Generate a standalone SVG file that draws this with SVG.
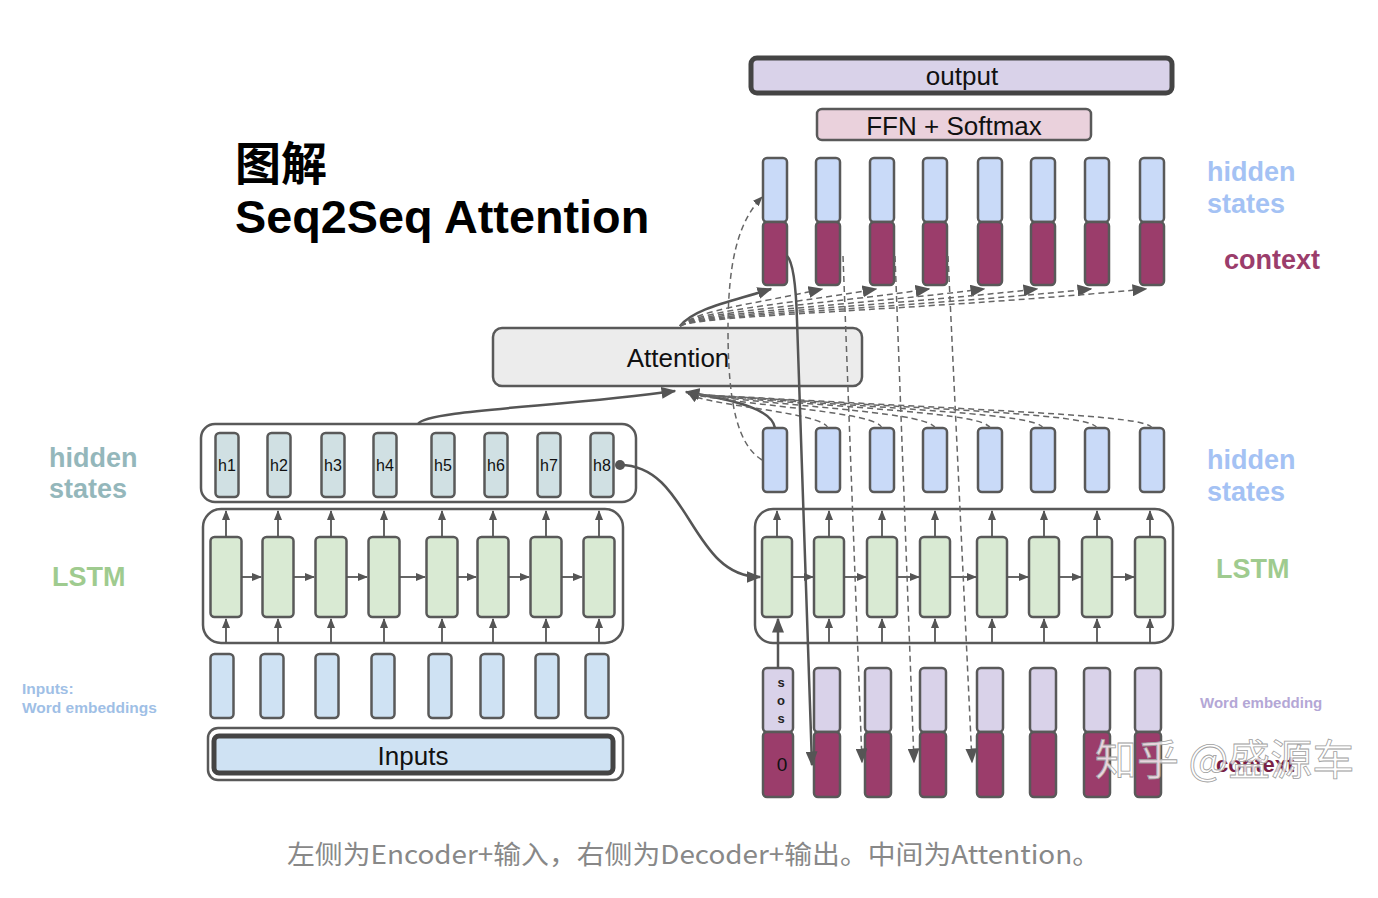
<svg xmlns="http://www.w3.org/2000/svg" width="1378" height="898" viewBox="0 0 1378 898">
<defs>
<marker id="ar" viewBox="0 0 10 8" refX="9" refY="4" markerWidth="10" markerHeight="8" markerUnits="userSpaceOnUse" orient="auto"><path d="M0,0 L10,4 L0,8 z" fill="#555"/></marker>
<marker id="arB" viewBox="0 0 10 8" refX="9" refY="4" markerWidth="15" markerHeight="12" markerUnits="userSpaceOnUse" orient="auto"><path d="M0,0 L10,4 L0,8 z" fill="#555"/></marker>
<style>
.bx{stroke:#595959;stroke-width:2.5}
.ct{fill:none;stroke:#595959;stroke-width:2.5}
.hs{fill:#d0e0e3}
.ls{fill:#d9ead3}
.ie{fill:#cfe2f3}
.dh{fill:#c9daf8}
.rd{fill:#9b3d6b}
.lv{fill:#d9d2e9}
.ln{fill:none;stroke:#555;stroke-width:1.8}
.lnB{fill:none;stroke:#555;stroke-width:2.5}
.ds{fill:none;stroke:#666;stroke-width:1.5;stroke-dasharray:6 4}
.t{font-family:"Liberation Sans",Arial,sans-serif;fill:#111}
.lb{font-family:"Liberation Sans",Arial,sans-serif;font-weight:bold}
</style>
</defs>
<rect width="1378" height="898" fill="#fff"/>

<g id="title">
<text x="235" y="180" font-family="'Noto Sans CJK SC',sans-serif" font-weight="bold" font-size="46" fill="#000">图解</text>
<text x="235" y="233" class="lb" font-size="46.8" fill="#000">Seq2Seq Attention</text>
</g>

<g id="labels">
<text x="49" y="467" class="lb" font-size="27" fill="#94b7bb">hidden</text>
<text x="49" y="498" class="lb" font-size="27" fill="#94b7bb">states</text>
<text x="52" y="586" class="lb" font-size="27" fill="#9fcb8f">LSTM</text>
<text x="22" y="694" class="lb" font-size="15.5" fill="#9fbfe6">Inputs:</text>
<text x="22" y="713" class="lb" font-size="15.5" fill="#9fbfe6">Word embeddings</text>
<text x="1207" y="181" class="lb" font-size="27" fill="#a4c2f4">hidden</text>
<text x="1207" y="213" class="lb" font-size="27" fill="#a4c2f4">states</text>
<text x="1224" y="269" class="lb" font-size="27" fill="#9b3d6b">context</text>
<text x="1207" y="469" class="lb" font-size="27" fill="#a4c2f4">hidden</text>
<text x="1207" y="501" class="lb" font-size="27" fill="#a4c2f4">states</text>
<text x="1216" y="578" class="lb" font-size="27" fill="#9fcb8f">LSTM</text>
<text x="1200" y="708" class="lb" font-size="15" fill="#b4a7d6">Word embedding</text>
<text x="1216" y="772" class="lb" font-size="22" fill="#7a1f45">context</text>
</g>

<g id="output">
<rect x="751" y="58" width="421" height="35" rx="6" fill="#d9d2e9" stroke="#444" stroke-width="5"/>
<text x="962" y="85" class="t" font-size="26" text-anchor="middle">output</text>
</g>
<g id="ffn">
<rect x="817" y="109" width="274" height="31" rx="5" fill="#ead1dc" class="bx"/>
<text x="954" y="135" class="t" font-size="26" text-anchor="middle">FFN + Softmax</text>
</g>
<g id="attention">
<rect x="493" y="328" width="369" height="58" rx="9" fill="#ececec" class="bx"/>
<text x="678" y="367" class="t" font-size="26" text-anchor="middle">Attention</text>
</g>

<g id="encoder-hidden">
<rect x="201" y="424" width="435" height="78" rx="14" class="ct"/>
<rect x="215.5" y="433" width="23" height="64" rx="4" class="bx hs"/>
<rect x="267.5" y="433" width="23" height="64" rx="4" class="bx hs"/>
<rect x="321.5" y="433" width="23" height="64" rx="4" class="bx hs"/>
<rect x="373.5" y="433" width="23" height="64" rx="4" class="bx hs"/>
<rect x="431.5" y="433" width="23" height="64" rx="4" class="bx hs"/>
<rect x="484.5" y="433" width="23" height="64" rx="4" class="bx hs"/>
<rect x="537.5" y="433" width="23" height="64" rx="4" class="bx hs"/>
<rect x="590.5" y="433" width="23" height="64" rx="4" class="bx hs"/>
<g class="t" font-size="16" text-anchor="middle">
<text x="227" y="471">h1</text><text x="279" y="471">h2</text><text x="333" y="471">h3</text><text x="385" y="471">h4</text>
<text x="443" y="471">h5</text><text x="496" y="471">h6</text><text x="549" y="471">h7</text><text x="602" y="471">h8</text>
</g>
</g>

<g id="encoder-lstm">
<rect x="203" y="509" width="420" height="134" rx="18" class="ct"/>
<rect x="210.5" y="537" width="31" height="80" rx="4" class="bx ls"/>
<rect x="262.5" y="537" width="31" height="80" rx="4" class="bx ls"/>
<rect x="315.5" y="537" width="31" height="80" rx="4" class="bx ls"/>
<rect x="368.5" y="537" width="31" height="80" rx="4" class="bx ls"/>
<rect x="426.5" y="537" width="31" height="80" rx="4" class="bx ls"/>
<rect x="477.5" y="537" width="31" height="80" rx="4" class="bx ls"/>
<rect x="530.5" y="537" width="31" height="80" rx="4" class="bx ls"/>
<rect x="583.5" y="537" width="31" height="80" rx="4" class="bx ls"/>
</g>

<g id="encoder-inputs">
<rect x="210.5" y="654" width="23" height="64" rx="4" class="bx ie"/>
<rect x="260.5" y="654" width="23" height="64" rx="4" class="bx ie"/>
<rect x="315.5" y="654" width="23" height="64" rx="4" class="bx ie"/>
<rect x="371.5" y="654" width="23" height="64" rx="4" class="bx ie"/>
<rect x="428.5" y="654" width="23" height="64" rx="4" class="bx ie"/>
<rect x="480.5" y="654" width="23" height="64" rx="4" class="bx ie"/>
<rect x="535.5" y="654" width="23" height="64" rx="4" class="bx ie"/>
<rect x="585.5" y="654" width="23" height="64" rx="4" class="bx ie"/>
</g>

<g id="inputs">
<rect x="208" y="728" width="415" height="52" rx="10" class="ct"/>
<rect x="214" y="736" width="399" height="37" rx="5" fill="#cfe2f3" stroke="#444" stroke-width="5"/>
<text x="413" y="765" class="t" font-size="26" text-anchor="middle">Inputs</text>
</g>

<g id="decoder-top">
<rect x="763" y="158" width="24" height="64" rx="4" class="bx dh"/>
<rect x="816" y="158" width="24" height="64" rx="4" class="bx dh"/>
<rect x="870" y="158" width="24" height="64" rx="4" class="bx dh"/>
<rect x="923" y="158" width="24" height="64" rx="4" class="bx dh"/>
<rect x="978" y="158" width="24" height="64" rx="4" class="bx dh"/>
<rect x="1031" y="158" width="24" height="64" rx="4" class="bx dh"/>
<rect x="1085" y="158" width="24" height="64" rx="4" class="bx dh"/>
<rect x="1140" y="158" width="24" height="64" rx="4" class="bx dh"/>
<rect x="763" y="222" width="24" height="63" rx="4" class="bx rd"/>
<rect x="816" y="222" width="24" height="63" rx="4" class="bx rd"/>
<rect x="870" y="222" width="24" height="63" rx="4" class="bx rd"/>
<rect x="923" y="222" width="24" height="63" rx="4" class="bx rd"/>
<rect x="978" y="222" width="24" height="63" rx="4" class="bx rd"/>
<rect x="1031" y="222" width="24" height="63" rx="4" class="bx rd"/>
<rect x="1085" y="222" width="24" height="63" rx="4" class="bx rd"/>
<rect x="1140" y="222" width="24" height="63" rx="4" class="bx rd"/>
</g>

<g id="decoder-hidden">
<rect x="763" y="428" width="24" height="64" rx="4" class="bx dh"/>
<rect x="816" y="428" width="24" height="64" rx="4" class="bx dh"/>
<rect x="870" y="428" width="24" height="64" rx="4" class="bx dh"/>
<rect x="923" y="428" width="24" height="64" rx="4" class="bx dh"/>
<rect x="978" y="428" width="24" height="64" rx="4" class="bx dh"/>
<rect x="1031" y="428" width="24" height="64" rx="4" class="bx dh"/>
<rect x="1085" y="428" width="24" height="64" rx="4" class="bx dh"/>
<rect x="1140" y="428" width="24" height="64" rx="4" class="bx dh"/>
</g>

<g id="decoder-lstm">
<rect x="755" y="509" width="418" height="134" rx="18" class="ct"/>
<rect x="762" y="537" width="30" height="80" rx="4" class="bx ls"/>
<rect x="814" y="537" width="30" height="80" rx="4" class="bx ls"/>
<rect x="867" y="537" width="30" height="80" rx="4" class="bx ls"/>
<rect x="920" y="537" width="30" height="80" rx="4" class="bx ls"/>
<rect x="977" y="537" width="30" height="80" rx="4" class="bx ls"/>
<rect x="1029" y="537" width="30" height="80" rx="4" class="bx ls"/>
<rect x="1082" y="537" width="30" height="80" rx="4" class="bx ls"/>
<rect x="1135" y="537" width="30" height="80" rx="4" class="bx ls"/>
</g>

<g id="decoder-inputs">
<rect x="763" y="668" width="30" height="64" rx="4" class="bx lv"/>
<rect x="814" y="668" width="26" height="64" rx="4" class="bx lv"/>
<rect x="865" y="668" width="26" height="64" rx="4" class="bx lv"/>
<rect x="920" y="668" width="26" height="64" rx="4" class="bx lv"/>
<rect x="977" y="668" width="26" height="64" rx="4" class="bx lv"/>
<rect x="1030" y="668" width="26" height="64" rx="4" class="bx lv"/>
<rect x="1084" y="668" width="26" height="64" rx="4" class="bx lv"/>
<rect x="1135" y="668" width="26" height="64" rx="4" class="bx lv"/>
<rect x="763" y="732" width="30" height="65" rx="4" class="bx rd"/>
<rect x="814" y="732" width="26" height="65" rx="4" class="bx rd"/>
<rect x="865" y="732" width="26" height="65" rx="4" class="bx rd"/>
<rect x="920" y="732" width="26" height="65" rx="4" class="bx rd"/>
<rect x="977" y="732" width="26" height="65" rx="4" class="bx rd"/>
<rect x="1030" y="732" width="26" height="65" rx="4" class="bx rd"/>
<rect x="1084" y="732" width="26" height="65" rx="4" class="bx rd"/>
<rect x="1135" y="732" width="26" height="65" rx="4" class="bx rd"/>
<g class="lb" font-size="13" text-anchor="middle" fill="#222">
<text x="781" y="687">s</text><text x="781" y="705">o</text><text x="781" y="723">s</text>
</g>
<text x="782" y="771" class="t" font-size="19" text-anchor="middle">0</text>
</g>

<g id="connectors">
<g class="ln" marker-end="url(#ar)">
<path d="M226 537V511"/><path d="M278 537V511"/><path d="M331 537V511"/><path d="M384 537V511"/>
<path d="M442 537V511"/><path d="M493 537V511"/><path d="M546 537V511"/><path d="M599 537V511"/>
<path d="M226 643V619"/><path d="M278 643V619"/><path d="M331 643V619"/><path d="M384 643V619"/>
<path d="M442 643V619"/><path d="M493 643V619"/><path d="M546 643V619"/><path d="M599 643V619"/>
<path d="M241.5 577H261"/><path d="M293.5 577H314"/><path d="M346.5 577H367"/><path d="M399.5 577H425"/>
<path d="M457.5 577H476"/><path d="M508.5 577H529"/><path d="M561.5 577H582"/>
<path d="M777 537V511"/><path d="M829 537V511"/><path d="M882 537V511"/><path d="M935 537V511"/>
<path d="M992 537V511"/><path d="M1044 537V511"/><path d="M1097 537V511"/><path d="M1150 537V511"/>
<path d="M829 643V619"/><path d="M882 643V619"/><path d="M935 643V619"/>
<path d="M992 643V619"/><path d="M1044 643V619"/><path d="M1097 643V619"/><path d="M1150 643V619"/>
<path d="M792 577H813"/><path d="M844 577H866"/><path d="M897 577H919"/><path d="M950 577H976"/>
<path d="M1007 577H1028"/><path d="M1059 577H1081"/><path d="M1112 577H1134"/>
</g>
<path d="M778 668V619" class="lnB" marker-end="url(#arB)"/>
<circle cx="620" cy="465" r="5" fill="#555"/>
<path d="M620 465 C690 465 690 577 760 577" class="lnB" marker-end="url(#arB)"/>
<path d="M418 424 C425 410 560 407 675 391" class="lnB" marker-end="url(#arB)"/>
<path d="M775 428 C772 410 740 401 686 392" class="lnB" marker-end="url(#arB)"/>
<g class="ds" marker-end="url(#ar)">
<path d="M828 428 C823 412 708 406 689 394"/>
<path d="M882 428 C877 412 760 407 689 394"/>
<path d="M935 428 C930 413 810 408 689 394"/>
<path d="M990 428 C985 413 860 409 689 394"/>
<path d="M1043 428 C1038 414 910 410 689 394"/>
<path d="M1097 428 C1092 414 960 411 689 394"/>
<path d="M1152 428 C1147 415 1010 412 689 394"/>
</g>
<path d="M680 326 C695 308 730 302 771 289" class="lnB" marker-end="url(#arB)"/>
<g class="ds" marker-end="url(#arB)">
<path d="M680 326 C700 309 751 305 822 289"/>
<path d="M680 326 C700 310 778 306 876 289"/>
<path d="M680 326 C700 311 805 307 929 289"/>
<path d="M680 326 C700 312 832 308 984 289"/>
<path d="M680 326 C700 313 858 309 1037 289"/>
<path d="M680 326 C700 314 886 310 1091 289"/>
<path d="M680 326 C700 315 913 311 1146 289"/>
</g>
<path d="M762 460 C738 445 728 405 728 330 C728 262 738 222 762 197" class="ds" marker-end="url(#ar)"/>
<path d="M787 256 C793 262 796 285 797 320 L812 765" class="lnB" marker-end="url(#arB)"/>
<g class="ds" marker-end="url(#arB)">
<path d="M843 256 L862 762"/>
<path d="M895 256 L914 762"/>
<path d="M948 256 L972 762"/>
</g>
</g>

<g id="watermark">
<text x="1095" y="775" font-family="'Noto Sans CJK SC',sans-serif" font-size="42" fill="#ffffff" fill-opacity="0.8" stroke="#a0a0a0" stroke-width="0.8">知乎 @盛源车</text>
</g>

<g id="caption">
<text x="287" y="864" font-family="'Noto Sans CJK SC',sans-serif" font-size="26" fill="#888" textLength="813" lengthAdjust="spacingAndGlyphs">左侧为Encoder+输入，右侧为Decoder+输出。中间为Attention。</text>
</g>
</svg>
